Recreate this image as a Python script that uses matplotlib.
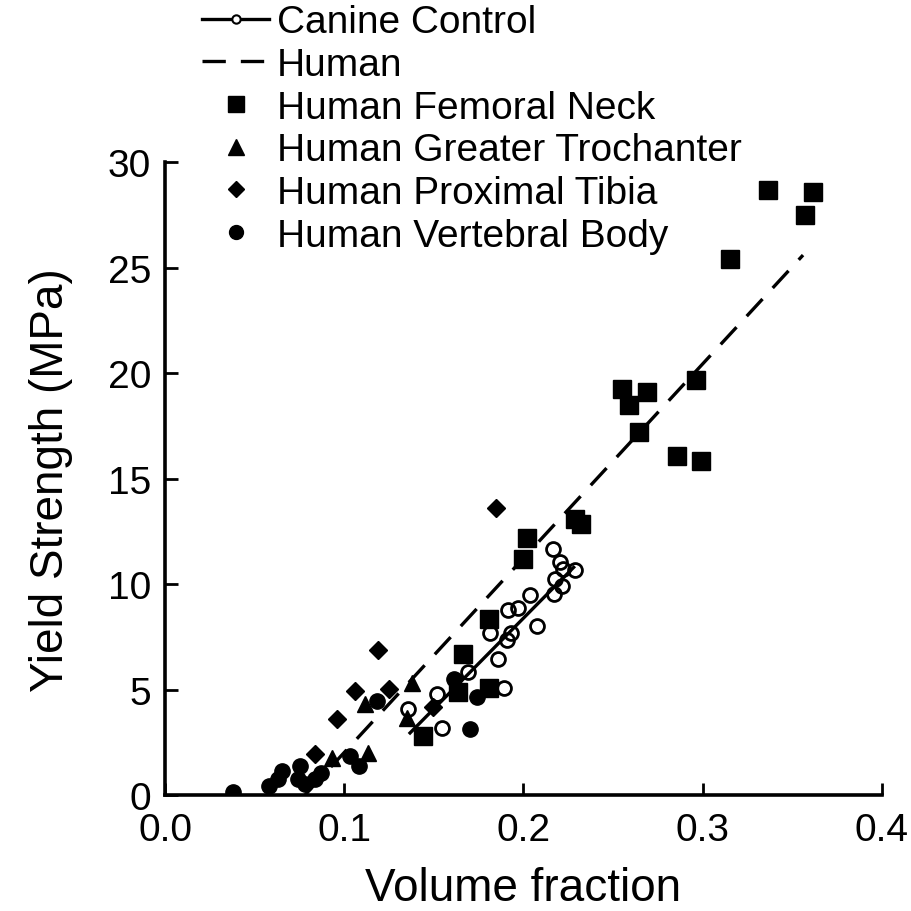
import matplotlib
matplotlib.use("Agg")
import matplotlib.pyplot as plt
from matplotlib.lines import Line2D

plt.rcParams['font.family'] = ['Liberation Sans', 'DejaVu Sans']

# Datos
canino_x = [0.1358, 0.1515, 0.1543, 0.1692, 0.1813, 0.1855, 0.189, 0.1906, 0.193, 0.1915,
            0.197, 0.2036, 0.2078, 0.2172, 0.2176, 0.2213, 0.2204, 0.2222, 0.229, 0.2167]
canino_y = [4.08, 4.79, 3.2, 5.85, 7.71, 6.45, 5.1, 7.36, 7.71, 8.78,
            8.89, 9.48, 8.02, 9.53, 10.24, 9.92, 11.03, 10.71, 10.68, 11.68]

cuello_x = [0.3364, 0.3615, 0.357, 0.315, 0.296, 0.2548, 0.2687, 0.259, 0.2645, 0.2857,
            0.2989, 0.229, 0.232, 0.2017, 0.2, 0.181, 0.1664, 0.1636, 0.181, 0.1437]
cuello_y = [28.67, 28.58, 27.49, 25.4, 19.7, 19.24, 19.1, 18.5, 17.2, 16.1,
            15.85, 13.1, 12.85, 12.2, 11.2, 8.37, 6.68, 4.87, 5.1, 2.8]

trocanter_x = [0.093, 0.113, 0.1116, 0.1376, 0.1348]
trocanter_y = [1.75, 1.98, 4.31, 5.34, 3.65]

tibia_x = [0.0837, 0.0962, 0.106, 0.119, 0.1251, 0.1497, 0.1844]
tibia_y = [1.94, 3.62, 4.94, 6.88, 5.05, 4.16, 13.59]

vertebra_x = [0.038, 0.058, 0.065, 0.063, 0.0753, 0.074, 0.078, 0.0837, 0.087,
              0.103, 0.108, 0.118, 0.161, 0.174, 0.17]
vertebra_y = [0.13, 0.44, 1.15, 0.76, 1.39, 0.76, 0.52, 0.76, 1.07,
              1.86, 1.39, 4.47, 5.5, 4.63, 3.16]

# Líneas de ajuste (extremos)
ajuste_canino_x = [0.1367, 0.228]
ajuste_canino_y = [2.95, 10.8]
ajuste_humano_x = [0.078, 0.356]
ajuste_humano_y = [0.0, 25.6]

fig = plt.figure(figsize=(9.12, 9.12), dpi=100)
ax = fig.add_axes([0.181, 0.127, 0.786, 0.694])

guiones = (0, (7, 4.5))
ax.plot(ajuste_humano_x, ajuste_humano_y, color='black', lw=2.4, ls=guiones, zorder=2)
ax.plot(ajuste_canino_x, ajuste_canino_y, color='black', lw=2.4, zorder=2)

ax.plot(cuello_x, cuello_y, ls='none', marker='s', ms=13, color='black', zorder=3)
ax.plot(trocanter_x, trocanter_y, ls='none', marker='^', ms=12, color='black', zorder=3)
ax.plot(tibia_x, tibia_y, ls='none', marker='D', ms=9, color='black', zorder=3)
ax.plot(vertebra_x, vertebra_y, ls='none', marker='o', ms=11, color='black', zorder=3)
ax.plot(canino_x, canino_y, ls='none', marker='o', ms=10, mfc='none', mec='black',
        mew=2, zorder=4)

ax.set_xlim(0, 0.4)
ax.set_ylim(0, 30)
ax.set_xticks([0.0, 0.1, 0.2, 0.3, 0.4])
ax.set_xticklabels(['0.0', '0.1', '0.2', '0.3', '0.4'])
ax.set_yticks([0, 5, 10, 15, 20, 25, 30])
ax.tick_params(direction='in', length=9, width=2, labelsize=28, pad=12)
ax.tick_params(axis='y', pad=10)
for lado in ['top', 'right']:
    ax.spines[lado].set_visible(False)
for lado in ['left', 'bottom']:
    ax.spines[lado].set_linewidth(2.6)

ax.set_xlabel('Volume fraction', fontsize=33, labelpad=13)
ax.set_ylabel('Yield Strength (MPa)', fontsize=33, labelpad=25)

# Leyenda
manijas = [
    Line2D([], [], color='black', lw=2.4, marker='o', ms=6, mfc='white', mew=1.5),
    Line2D([], [], color='black', lw=2.4, ls=guiones),
    Line2D([], [], ls='none', marker='s', ms=11, color='black'),
    Line2D([], [], ls='none', marker='^', ms=11, color='black'),
    Line2D([], [], ls='none', marker='D', ms=8, color='black'),
    Line2D([], [], ls='none', marker='o', ms=10, color='black'),
]
etiquetas = ['Canine Control', 'Human', 'Human Femoral Neck', 'Human Greater Trochanter',
             'Human Proximal Tibia', 'Human Vertebral Body']
fig.legend(manijas, etiquetas, loc='upper left', bbox_to_anchor=(0.222, 0.994),
           frameon=False, fontsize=28, handlelength=1.72, handletextpad=0.2,
           labelspacing=0.17, borderpad=0.0, borderaxespad=0.0)

fig.savefig('out.png', dpi=100)
